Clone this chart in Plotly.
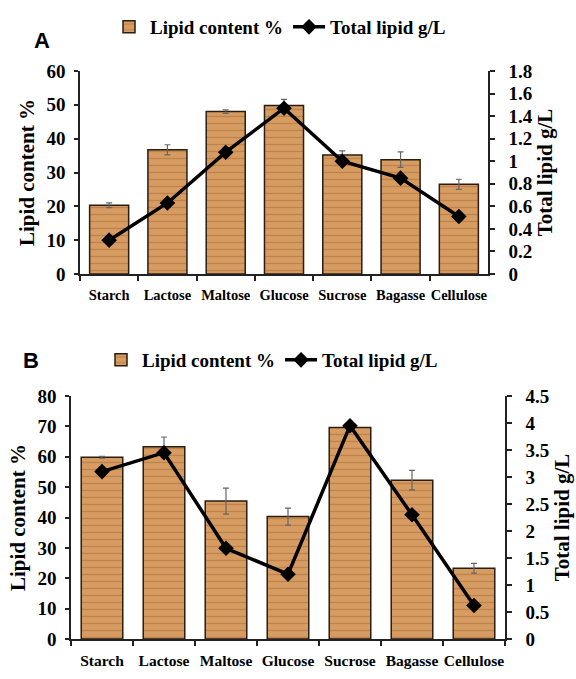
import plotly.graph_objects as go

categories = ["Starch", "Lactose", "Maltose", "Glucose", "Sucrose", "Bagasse", "Cellulose"]

# Panel A
lipid_pct_A = [20.3, 36.7, 48.0, 49.8, 35.2, 33.8, 26.5]
lipid_pct_A_err = [0.7, 1.5, 0.5, 1.8, 1.2, 2.3, 1.5]
total_lipid_A = [0.30, 0.63, 1.08, 1.47, 1.00, 0.85, 0.51]

# Panel B
lipid_pct_B = [59.8, 63.3, 45.4, 40.3, 69.6, 52.3, 23.3]
lipid_pct_B_err = [0.3, 3.2, 4.3, 2.8, 0.4, 3.2, 1.6]
total_lipid_B = [3.1, 3.45, 1.68, 1.2, 3.95, 2.3, 0.62]

W, H = 576, 679
SERIF = "Liberation Serif, Times New Roman, serif"
BAR_COLOR = "#D79C62"
STRIPE = "#A86B38"
EDGE = "#2b1d10"
AXC = "#222222"

def px(x):
    return x / W

def py(y):
    return (H - y) / H

fig = go.Figure()

def add_panel(vals, errs, line_vals, xa, ya, ya2, legend):
    fig.add_trace(go.Bar(
        x=categories, y=vals, name="Lipid content %",
        xaxis=xa, yaxis=ya, width=0.67,
        marker=dict(color=BAR_COLOR, line=dict(color=EDGE, width=1.5),
                    pattern=dict(shape="-", fgcolor=STRIPE, size=7, solidity=0.2)),
        error_y=dict(type="data", array=errs, color="#666666", thickness=1.2, width=3),
        legend=legend,
    ))
    fig.add_trace(go.Scatter(
        x=categories, y=line_vals, name="Total lipid g/L",
        xaxis=xa, yaxis=ya2, mode="lines+markers",
        line=dict(color="black", width=3.5),
        marker=dict(symbol="diamond", size=12, color="black"),
        legend=legend,
    ))

add_panel(lipid_pct_A, lipid_pct_A_err, total_lipid_A, "x", "y", "y2", "legend")
add_panel(lipid_pct_B, lipid_pct_B_err, total_lipid_B, "x2", "y3", "y4", "legend2")

tickfont = dict(family=SERIF, size=19, color="black", weight="bold")
xtickfont_A = dict(family=SERIF, size=14.5, color="black", weight="bold")
xtickfont_B = dict(family=SERIF, size=15.5, color="black", weight="bold")
titlefont = dict(family=SERIF, size=21, color="black", weight="bold")

def xaxis(domain, anchor, font):
    return dict(domain=domain, anchor=anchor, showline=True, linecolor=AXC, linewidth=1.5,
                ticks="outside", ticklen=5, tickcolor=AXC, tickwidth=1.5,
                tickson="boundaries", tickfont=font, showgrid=False, zeroline=False,
                tickangle=0, ticklabelstandoff=7, automargin=False, fixedrange=True)

def yleft(domain, anchor, rng, dtick):
    return dict(domain=domain, anchor=anchor, range=rng, dtick=dtick, showline=True,
                linecolor=AXC, linewidth=1.5, ticks="outside", ticklen=4, tickcolor=AXC,
                tickwidth=1.5, tickfont=tickfont, showgrid=False, zeroline=False,
                ticklabelstandoff=5, automargin=False,
                title=dict(text="Lipid content %", font=titlefont, standoff=6))

def yright(overlay, anchor, rng, dtick):
    return dict(overlaying=overlay, anchor=anchor, side="right", range=rng, dtick=dtick,
                showline=True, linecolor=AXC, linewidth=1.5, ticks="outside", ticklen=5,
                tickcolor=AXC, tickwidth=1.5, tickfont=tickfont, showgrid=False,
                zeroline=False, ticklabelstandoff=10, automargin=False,
                title=dict(text="Total lipid g/L", font=titlefont, standoff=6))

legfont = dict(family=SERIF, size=19, color="black", weight="bold")

fig.update_layout(
    width=W, height=H,
    margin=dict(l=0, r=0, t=0, b=0, autoexpand=False),
    paper_bgcolor="white", plot_bgcolor="white",
    xaxis=xaxis([px(80), px(488)], "y", xtickfont_A),
    yaxis=yleft([py(274), py(71)], "x", [0, 60], 10),
    yaxis2=yright("y", "x", [0, 1.8], 0.2),
    xaxis2=xaxis([px(71), px(505)], "y3", xtickfont_B),
    yaxis3=yleft([py(639), py(396)], "x2", [0, 80], 10),
    yaxis4=yright("y3", "x2", [0, 4.5], 0.5),
    legend=dict(orientation="h", x=px(108), y=py(27), xanchor="left", yanchor="middle",
                font=legfont, bgcolor="rgba(0,0,0,0)", itemwidth=32, tracegroupgap=0),
    legend2=dict(orientation="h", x=px(100), y=py(360), xanchor="left", yanchor="middle",
                 font=legfont, bgcolor="rgba(0,0,0,0)", itemwidth=32, tracegroupgap=0),
    annotations=[
        dict(text="A", x=px(32), y=py(26), xref="paper", yref="paper", showarrow=False,
             font=dict(family="Liberation Sans", size=22, color="black", weight="bold")),
        dict(text="B", x=px(21), y=py(360), xref="paper", yref="paper", showarrow=False,
             font=dict(family="Liberation Sans", size=22, color="black", weight="bold")),
    ],
)

fig.write_html("out.html")
